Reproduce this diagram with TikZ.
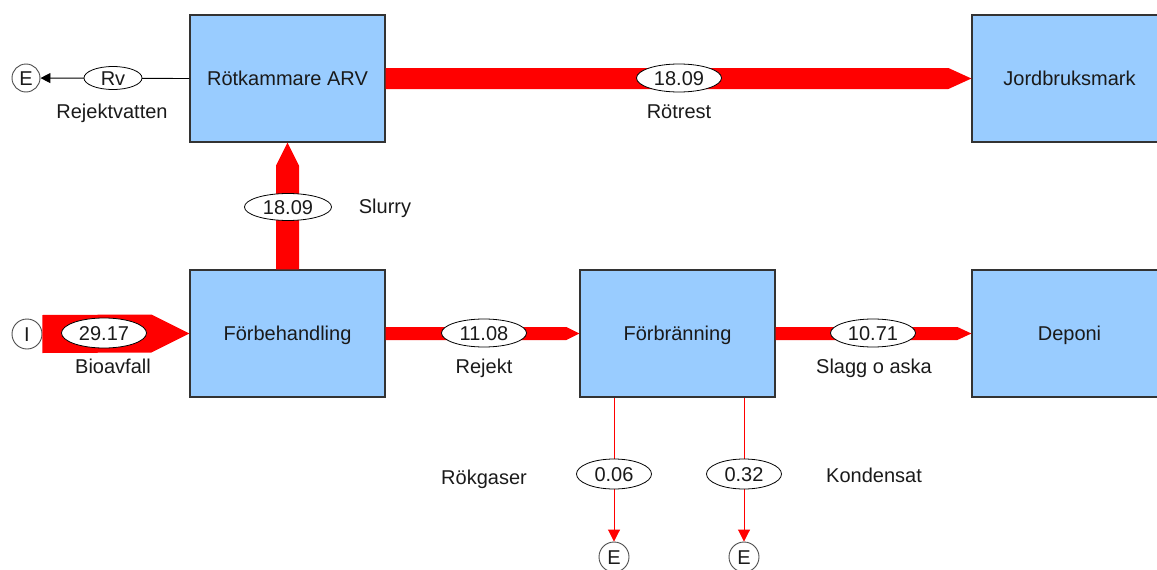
\documentclass[tikz,border=0pt]{standalone}
\usepackage{fontspec}
\setmainfont{Liberation Sans}
\usetikzlibrary{shapes.geometric,arrows.meta,calc}
\definecolor{boxblue}{HTML}{99CCFF}
\definecolor{flowred}{HTML}{FF0000}
\definecolor{ink}{HTML}{1A1A1A}
\begin{document}
\begin{tikzpicture}[x=1pt,y=-1pt,
  every node/.style={font=\fontsize{20}{24}\selectfont, text=ink},
  unit/.style={draw=black!80, line width=1.2pt, fill=boxblue,
    minimum width=195pt, minimum height=127pt, inner sep=0pt,
    text height=14pt, text depth=0pt},
  amount/.style={ellipse, draw=black, line width=0.8pt, fill=white,
    inner sep=0pt, text height=14pt, text depth=0pt},
  terminal/.style={circle, draw=black!70, line width=0.9pt, fill=white,
    inner sep=0pt, text height=14pt, text depth=0pt},
  caption/.style={inner sep=0pt, text height=14pt, text depth=0pt},
  thinflow/.style={line width=0.9pt, -{Triangle[length=12pt,width=12pt]}},
]
\useasboundingbox (0,0) rectangle (1157,570);
\clip (0,0) rectangle (1157,570);

% process units
\node[unit] (rot)    at (287.5,78.5)  {Rötkammare ARV};
\node[unit] (jord)   at (1069.5,78.5) {Jordbruksmark};
\node[unit] (forb)   at (287.5,333.5) {Förbehandling};
\node[unit] (brann)  at (677.5,333.5) {Förbränning};
\node[unit] (deponi) at (1069.5,333.5) {Deponi};

% system boundary terminals
\node[terminal, minimum size=28pt] (eRv)  at (26,78)   {E};
\node[terminal, minimum size=30pt] (in)   at (27,334)  {I};
\node[terminal, minimum size=30pt] (eRok) at (614,557) {E};
\node[terminal, minimum size=30pt] (eKon) at (744,557) {E};

% wide flows (shaft width proportional to mass)
\fill[flowred] ($(rot.east)+(0,-10.5)$) -- ($(jord.west)+(-23,-10.5)$) -- (jord.west)
  -- ($(jord.west)+(-23,10.5)$) -- ($(rot.east)+(0,10.5)$) -- cycle;
\fill[flowred] ($(forb.north)+(-11.5,0)$) -- ($(rot.south)+(-11.5,23)$) -- (rot.south)
  -- ($(rot.south)+(11.5,23)$) -- ($(forb.north)+(11.5,0)$) -- cycle;
\fill[flowred] ($(in.east)+(0,-19)$) -- ($(forb.west)+(-38,-19)$) -- (forb.west)
  -- ($(forb.west)+(-38,19)$) -- ($(in.east)+(0,19)$) -- cycle;
\fill[flowred] ($(forb.east)+(0,-6.5)$) -- ($(brann.west)+(-13,-6.5)$) -- (brann.west)
  -- ($(brann.west)+(-13,6.5)$) -- ($(forb.east)+(0,6.5)$) -- cycle;
\fill[flowred] ($(brann.east)+(0,-6.5)$) -- ($(deponi.west)+(-14,-6.5)$) -- (deponi.west)
  -- ($(deponi.west)+(-14,6.5)$) -- ($(brann.east)+(0,6.5)$) -- cycle;

% thin flows
\draw[black, line width=0.9pt, -{Triangle[length=10pt,width=10pt]}] (rot.west) -- (eRv);
\draw[flowred, thinflow] (eRok |- brann.south) -- (eRok);
\draw[flowred, thinflow] (eKon |- brann.south) -- (eKon);

% flow amounts
\node[amount, minimum width=58pt, minimum height=23pt] (aRv)   at (113,78)  {Rv};
\node[amount, minimum width=85pt, minimum height=30pt] (aBio)  at (104,333) {29.17};
\node[amount, minimum width=85pt, minimum height=28pt] (aRej)  at (484,333) {11.08};
\node[amount, minimum width=85pt, minimum height=28pt] (aSlag) at (873,333) {10.71};
\node[amount, minimum width=87pt, minimum height=27pt] (aSlu)  at (288,207) {18.09};
\node[amount, minimum width=85pt, minimum height=28pt] (aRot)  at (679,78)  {18.09};
\node[amount, minimum width=75pt, minimum height=30pt] (aRok)  at (614,474) {0.06};
\node[amount, minimum width=75pt, minimum height=30pt] (aKon)  at (744,474) {0.32};

% flow names
\node[caption] (lRv)   at (112,111) {Rejektvatten};
\node[caption] (lBio)  at (113,366) {Bioavfall};
\node[caption] (lRej)  at (484,366) {Rejekt};
\node[caption] (lSlag) at (874,366) {Slagg o aska};
\node[caption] (lRot)  at (679,111) {Rötrest};
\node[caption] (lSlu)  at (385,206) {Slurry};
\node[caption] (lRok)  at (484,477) {Rökgaser};
\node[caption] (lKon)  at (874,475) {Kondensat};
\end{tikzpicture}
\end{document}
